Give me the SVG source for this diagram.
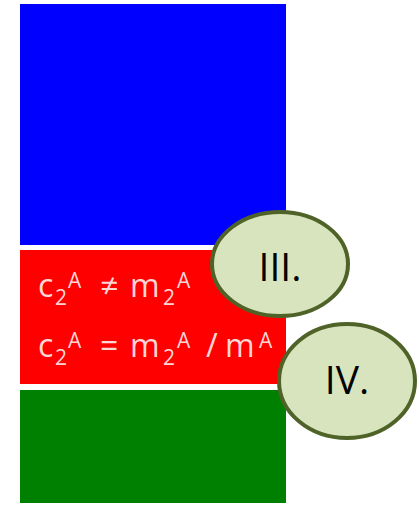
<svg xmlns="http://www.w3.org/2000/svg" width="419" height="507" viewBox="0 0 419 507">
<style>
.eq{font-family:"Open Sans","Liberation Sans",sans-serif;fill:#ffd6d6}
.m{font-size:32px}
.s{font-size:21px}
.lab{font-family:"Open Sans","Liberation Sans",sans-serif;font-size:39px;fill:#000;text-anchor:middle}
.ell{fill:#d7e4bd;stroke:#4f6228;stroke-width:4}
</style>
<rect width="419" height="507" fill="#fff"/>
<g id="blue"><rect x="20" y="4" width="266" height="241" fill="#0000ff"/></g>
<g id="red"><rect x="20" y="250" width="266" height="134" fill="#ff0000"/>
<text class="eq"><tspan class="m" x="38" y="297">c</tspan><tspan class="s" x="55" y="305">2</tspan><tspan class="s" x="68" y="288">A</tspan><tspan class="m" x="100" y="297">≠</tspan><tspan class="m" x="130" y="297">m</tspan><tspan class="s" x="163" y="305">2</tspan><tspan class="s" x="177" y="288">A</tspan></text>
<text class="eq"><tspan class="m" x="38" y="357">c</tspan><tspan class="s" x="55" y="365">2</tspan><tspan class="s" x="68" y="348">A</tspan><tspan class="m" x="100" y="357">=</tspan><tspan class="m" x="130" y="357">m</tspan><tspan class="s" x="163" y="365">2</tspan><tspan class="s" x="177" y="348">A</tspan><tspan class="m" x="206" y="357">/</tspan><tspan class="m" x="225" y="357">m</tspan><tspan class="s" x="259" y="348">A</tspan></text>
</g>
<g id="green"><rect x="20" y="390" width="266" height="113" fill="#008000"/></g>
<g id="III"><ellipse class="ell" cx="280" cy="264" rx="68" ry="52"/><text class="lab" x="280" y="281">III.</text></g>
<g id="IV"><ellipse class="ell" cx="347" cy="381" rx="68" ry="57"/><text class="lab" x="347" y="394">IV.</text></g>
</svg>
